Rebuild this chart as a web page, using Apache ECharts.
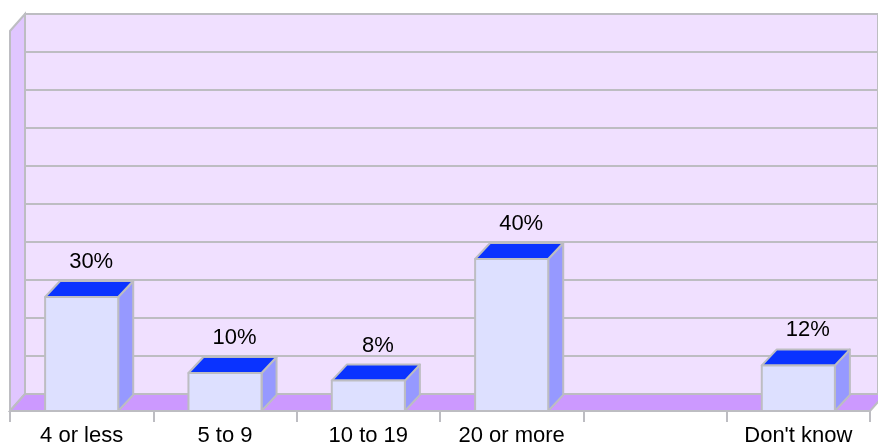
<!DOCTYPE html>
<html>
<head>
<meta charset="utf-8">
<script src="https://cdn.jsdelivr.net/npm/echarts@6/dist/echarts.min.js"></script>
<style>
  html, body { margin: 0; padding: 0; background: #ffffff; }
  #chart { width: 878px; height: 447px; }
</style>
</head>
<body>
<div id="chart"></div>
<script>
// Categories and shares (percent) shown on the bar chart
const categories = ['4 or less', '5 to 9', '10 to 19', '20 or more', '', "Don't know"];
const shares = [30, 10, 8, 40, null, 12];
const yTicks = { min: 0, max: 100, interval: 10 };

// Colours of the pseudo-3D scene
const WALL_BACK = '#f0e0ff';
const WALL_SIDE = '#e0c6ff';
const FLOOR = '#cc99ff';
const EDGE = '#bdbdc2';
const BAR_FRONT = '#dde0ff';
const BAR_SIDE = '#9699ff';
const BAR_TOP = '#0a33ff';

// Depth offsets of the walls and the bars (pixels)
const WDX = 15, WDY = -17;
const BDX = 15, BDY = -16;

const barData = shares
  .map((v, i) => [i, v])
  .filter(d => d[1] !== null);

const chart = echarts.init(document.getElementById('chart'));

chart.setOption({
  animation: false,
  backgroundColor: '#ffffff',
  grid: [
    // back wall
    { left: 10 + WDX, right: 8 - WDX, top: 31 + WDY, bottom: 36 - WDY,
      show: true, backgroundColor: WALL_BACK, borderColor: EDGE, borderWidth: 2 },
    // front plane
    { left: 10, right: 8, top: 31, bottom: 36 }
  ],
  xAxis: [
    { gridIndex: 0, type: 'category', data: categories, show: false },
    { gridIndex: 1, type: 'category', data: categories, boundaryGap: true,
      axisLine: { show: true, lineStyle: { color: EDGE, width: 2 } },
      axisTick: { show: true, length: 11, alignWithLabel: false,
                  lineStyle: { color: EDGE, width: 2 } },
      axisLabel: { color: '#000000', fontSize: 22, margin: 14,
                   fontFamily: '"Liberation Sans", Arial, Helvetica, sans-serif',
                   interval: 0 } }
  ],
  yAxis: [
    { gridIndex: 0, type: 'value', min: yTicks.min, max: yTicks.max, interval: yTicks.interval,
      axisLine: { show: false }, axisTick: { show: false }, axisLabel: { show: false },
      splitLine: { show: true, lineStyle: { color: EDGE, width: 2 } } },
    { gridIndex: 1, type: 'value', min: yTicks.min, max: yTicks.max, interval: yTicks.interval,
      show: false, splitLine: { show: false } }
  ],
  series: [
    {
      // left wall and floor
      type: 'custom',
      xAxisIndex: 1, yAxisIndex: 1,
      z: 2,
      silent: true,
      data: [[0, 0]],
      encode: { x: 0, y: 1 },
      renderItem(params, api) {
        const cw = api.size([1, 0])[0];
        const first = api.coord([0, 0]);
        const last = api.coord([categories.length - 1, 0]);
        const topY = api.coord([0, yTicks.max])[1];
        const L = first[0] - cw / 2;
        const R = last[0] + cw / 2;
        const B = first[1];
        return {
          type: 'group',
          children: [
            { type: 'polygon',
              shape: { points: [[L, B], [L, topY], [L + WDX, topY + WDY], [L + WDX, B + WDY]] },
              style: { fill: WALL_SIDE, stroke: EDGE, lineWidth: 2 } },
            { type: 'polygon',
              shape: { points: [[L, B], [L + WDX, B + WDY], [R + WDX, B + WDY], [R, B]] },
              style: { fill: FLOOR, stroke: EDGE, lineWidth: 2 } }
          ]
        };
      }
    },
    {
      // 3D bars with value labels
      type: 'custom',
      xAxisIndex: 1, yAxisIndex: 1,
      z: 3,
      data: barData,
      encode: { x: 0, y: 1 },
      renderItem(params, api) {
        const idx = api.value(0);
        const v = api.value(1);
        const base = api.coord([idx, 0]);
        const top = api.coord([idx, v]);
        const w = api.size([1, 0])[0] * 0.51;
        const x0 = base[0] - w / 2, x1 = base[0] + w / 2;
        const y0 = base[1], y1 = top[1];
        const st = (fill) => ({ fill, stroke: EDGE, lineWidth: 2, lineJoin: 'round' });
        return {
          type: 'group',
          children: [
            { type: 'polygon',
              shape: { points: [[x1, y0], [x1 + BDX, y0 + BDY], [x1 + BDX, y1 + BDY], [x1, y1]] },
              style: st(BAR_SIDE) },
            { type: 'polygon',
              shape: { points: [[x0, y1], [x1, y1], [x1 + BDX, y1 + BDY], [x0 + BDX, y1 + BDY]] },
              style: st(BAR_TOP) },
            { type: 'polygon',
              shape: { points: [[x0, y0], [x1, y0], [x1, y1], [x0, y1]] },
              style: st(BAR_FRONT) },
            { type: 'text',
              x: base[0] + BDX / 2 + 2,
              y: y1 + BDY - 8,
              style: { text: v + '%', fill: '#000000', fontSize: 22,
                       fontFamily: '"Liberation Sans", Arial, Helvetica, sans-serif',
                       align: 'center', verticalAlign: 'bottom' } }
          ]
        };
      }
    }
  ]
});
</script>
</body>
</html>
